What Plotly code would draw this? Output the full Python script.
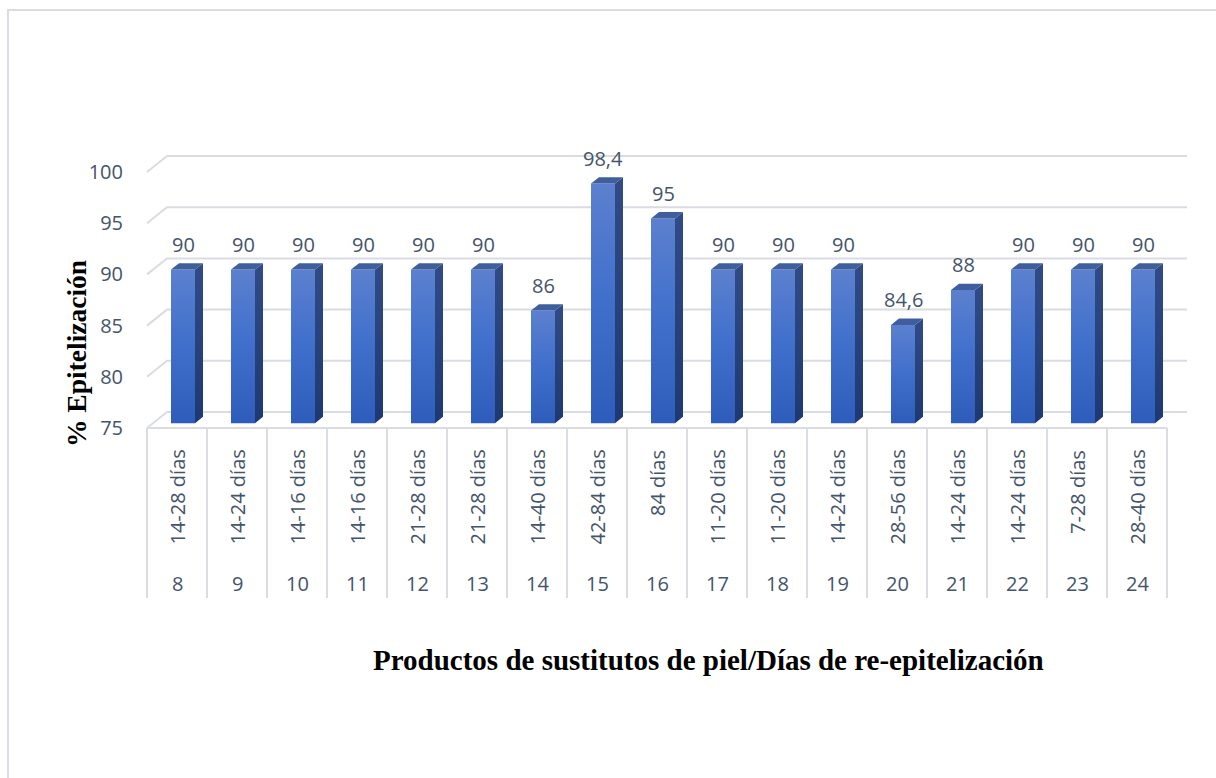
import plotly.graph_objects as go

# ---- data ----
producto = [8, 9, 10, 11, 12, 13, 14, 15, 16, 17, 18, 19, 20, 21, 22, 23, 24]
dias = ["14-28 días", "14-24 días", "14-16 días", "14-16 días", "21-28 días",
        "21-28 días", "14-40 días", "42-84 días", "84 días", "11-20 días",
        "11-20 días", "14-24 días", "28-56 días", "14-24 días", "14-24 días",
        "7-28 días", "28-40 días"]
epitelizacion = [90, 90, 90, 90, 90, 90, 86, 98.4, 95, 90, 90, 90, 84.6, 88, 90, 90, 90]
y_ticks = [75, 80, 85, 90, 95, 100]

# ---- styling / geometry ----
W, H = 1216, 778
X0_PX, COL_PX = 147, 60          # left edge of category band, px per category
Y0_PX, UNIT_PX = 428, 10.24      # px of value 75 on the front plane, px per unit
DX, DY = 20 / COL_PX, 16 / UNIT_PX   # depth offset of back wall in data units
F1, F2 = 0.3, 0.7                # bar depth (front/back fraction)
BW = 0.4                         # bar width (category units)
YMIN = y_ticks[0]
GRID = "#D9DCE3"
TXT = "#44546A"
SANS = "Open Sans"
SERIF = "Liberation Serif"

n = len(producto)
xr = [-0.5 - X0_PX / COL_PX, -0.5 + (W - X0_PX) / COL_PX]
yr = [YMIN - (H - Y0_PX) / UNIT_PX, YMIN + Y0_PX / UNIT_PX]

fig = go.Figure()

def line(xs, ys, color=GRID, width=2):
    fig.add_trace(go.Scatter(x=xs, y=ys, mode="lines", line=dict(color=color, width=width),
                             hoverinfo="skip", showlegend=False))

# back wall gridlines + left wall diagonals
for t in y_ticks:
    line([-0.5, -0.5 + DX, n - 0.5 + DX], [t, t + DY, t + DY])

# floor front edge / table top and table verticals
tbl_bottom = YMIN - 170 / UNIT_PX
line([-0.5, n - 0.5], [YMIN, YMIN])
for k in range(n + 1):
    line([k - 0.5, k - 0.5], [YMIN, tbl_bottom])

# bars (front, side, top faces)
dd = (F2 - F1)
for i, v in enumerate(epitelizacion):
    xl = i + F1 * DX - BW / 2
    xrr = i + F1 * DX + BW / 2
    yb = YMIN + F1 * DY
    yt = v + F1 * DY
    # front
    fig.add_trace(go.Scatter(
        x=[xl, xrr, xrr, xl, xl], y=[yb, yb, yt, yt, yb], mode="lines",
        line=dict(width=0), fill="toself",
        fillgradient=dict(type="vertical", colorscale=[[0, "#2E5CBA"], [0.5, "#3F6FCB"], [1, "#5C80CF"]]),
        hoverinfo="skip", showlegend=False))
    # side
    fig.add_trace(go.Scatter(
        x=[xrr, xrr + dd * DX, xrr + dd * DX, xrr, xrr],
        y=[yb, yb + dd * DY, yt + dd * DY, yt, yb], mode="lines",
        line=dict(width=0), fill="toself",
        fillgradient=dict(type="vertical", colorscale=[[0, "#1D3873"], [1, "#314B87"]]),
        hoverinfo="skip", showlegend=False))
    # top
    fig.add_trace(go.Scatter(
        x=[xl, xrr, xrr + dd * DX, xl + dd * DX, xl],
        y=[yt, yt, yt + dd * DY, yt + dd * DY, yt], mode="lines",
        line=dict(width=0), fill="toself", fillcolor="#3F5E9E",
        hoverinfo="skip", showlegend=False))

annotations = []
# value labels
for i, v in enumerate(epitelizacion):
    label = f"{v:g}".replace(".", ",")
    annotations.append(dict(x=i + F1 * DX, y=v + F2 * DY, text=label, showarrow=False,
                            yanchor="middle", xanchor="center", yshift=19,
                            font=dict(family=SANS, size=20, color=TXT)))
# table labels
for i, (p, d) in enumerate(zip(producto, dias)):
    annotations.append(dict(x=i, y=YMIN, text=d, textangle=-90, showarrow=False,
                            yanchor="top", xanchor="center", yshift=-20,
                            font=dict(family=SANS, size=20, color=TXT)))
    annotations.append(dict(x=i, y=YMIN, text=str(p), showarrow=False,
                            yanchor="middle", xanchor="center", yshift=-155,
                            font=dict(family=SANS, size=20, color=TXT)))
# axis titles
annotations.append(dict(xref="paper", yref="paper", x=708 / W, y=1 - 660 / H,
                        text="<b>Productos de sustitutos de piel/Días de re-epitelización</b>",
                        showarrow=False, xanchor="center", yanchor="middle",
                        font=dict(family=SERIF, size=29, color="black")))
annotations.append(dict(xref="paper", yref="paper", x=77 / W, y=1 - 354 / H,
                        text="<b>% Epitelización</b>", textangle=-90,
                        showarrow=False, xanchor="center", yanchor="middle",
                        font=dict(family=SERIF, size=27.5, color="black")))

fig.update_layout(
    width=W, height=H,
    margin=dict(l=0, r=0, t=0, b=0),
    paper_bgcolor="white", plot_bgcolor="white",
    xaxis=dict(range=xr, showgrid=False, zeroline=False, showticklabels=False,
               showline=False, fixedrange=True),
    yaxis=dict(range=yr, showgrid=False, zeroline=False, showline=False,
               tickvals=y_ticks, ticktext=[str(t) for t in y_ticks],
               anchor="free", position=X0_PX / W, ticks="",
               ticklabelstandoff=24,
               tickfont=dict(family=SANS, size=20, color=TXT), fixedrange=True),
    annotations=annotations,
    shapes=[dict(type="rect", xref="paper", yref="paper",
                 x0=8 / W, x1=1.05, y0=-0.05, y1=1 - 10 / H,
                 line=dict(color="#D9DCE3", width=2), fillcolor="rgba(0,0,0,0)",
                 layer="below")],
)

fig.write_html("out.html")
